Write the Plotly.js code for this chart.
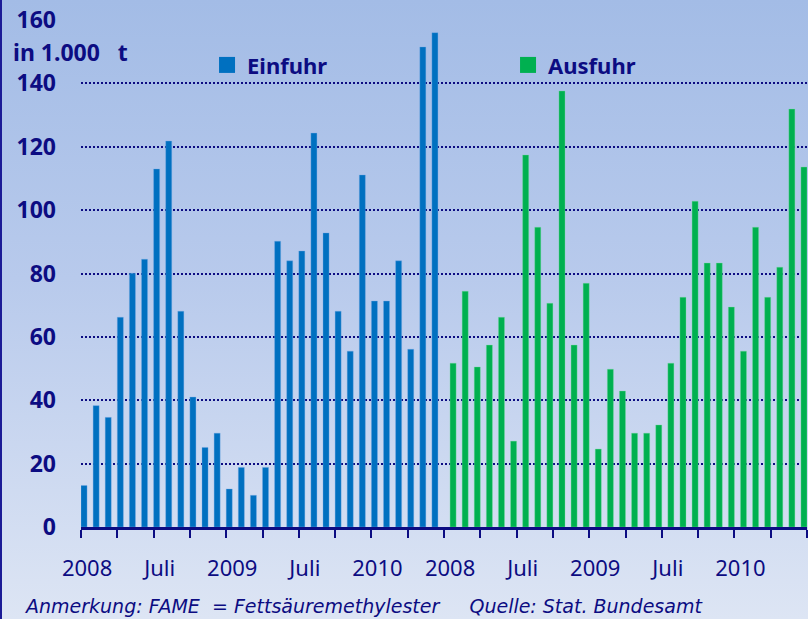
<!DOCTYPE html>
<html><head><meta charset="utf-8">
<script src="https://cdn.plot.ly/plotly-3.0.1.min.js"></script>
<style>
html,body{margin:0;padding:0;background:#fff;}
#wrap{position:relative;width:808px;height:619px;overflow:hidden;
  background:linear-gradient(to bottom,#a3bce6 0%,#b8caec 45%,#dde5f4 100%);}
#wrap:after{content:'';position:absolute;left:0;top:0;bottom:0;width:2px;background:#1b1b96;}
#chart{width:808px;height:619px;}
</style></head><body>
<div id="wrap"><div id="chart"></div></div>
<script>
const months = ['Jan 2008','Feb 2008','Mär 2008','Apr 2008','Mai 2008','Jun 2008','Jul 2008','Aug 2008','Sep 2008','Okt 2008','Nov 2008','Dez 2008',
  'Jan 2009','Feb 2009','Mär 2009','Apr 2009','Mai 2009','Jun 2009','Jul 2009','Aug 2009','Sep 2009','Okt 2009','Nov 2009','Dez 2009',
  'Jan 2010','Feb 2010','Mär 2010','Apr 2010','Mai 2010','Jun 2010'];
const einfuhr = [13.1, 38.3, 34.6, 66.2, 80.1, 84.5, 113.0, 121.8, 68.1, 41.0, 25.1, 29.6,
  12.0, 18.8, 10.0, 18.8, 90.2, 84.0, 87.1, 124.3, 92.8, 68.1, 55.5, 111.1,
  71.3, 71.3, 84.0, 56.1, 151.5, 156.0];
const ausfuhr = [51.7, 74.4, 50.5, 57.4, 66.2, 27.1, 117.4, 94.6, 70.6, 137.6, 57.4, 76.9,
  24.6, 49.8, 42.9, 29.6, 29.6, 32.2, 51.7, 72.5, 102.8, 83.3, 83.3, 69.4,
  55.5, 94.6, 72.5, 82.0, 131.9, 113.6];
const tickLabels = ['2008','Juli','2009','Juli','2010'];
const seriesNames = ['Einfuhr','Ausfuhr'];
const seriesColors = ['#0070c0','#00b050'];
const unitLabel = 'in 1.000\u00a0\u00a0\u00a0t';
const footnote = 'Anmerkung:\u00a0FAME\u00a0\u00a0=\u00a0Fettsäuremethylester\u00a0\u00a0\u00a0\u00a0\u00a0Quelle:\u00a0Stat.\u00a0Bundesamt';

const navy = '#0c0c82';
const n = months.length;
const xE = einfuhr.map((_, i) => i);
const xA = ausfuhr.map((_, i) => i + n);

const tickvals = [], ticktext = [];
[0, n].forEach(off => tickLabels.forEach((t, k) => { tickvals.push(off + k * 6); ticktext.push(t); }));

const traces = [
  {type:'bar', name:seriesNames[0], x:xE, y:einfuhr, text:months, showlegend:false, legendgroup:'e',
   hovertemplate:'%{text}: %{y}<extra>Einfuhr</extra>', textposition:'none', width:0.5, offset:-0.5,
   marker:{color:seriesColors[0], line:{color:'rgba(120,170,230,0.6)', width:0.6}}},
  {type:'bar', name:seriesNames[1], x:xA, y:ausfuhr, text:months, showlegend:false, legendgroup:'a',
   hovertemplate:'%{text}: %{y}<extra>Ausfuhr</extra>', textposition:'none', width:0.5, offset:0,
   marker:{color:seriesColors[1], line:{color:'rgba(120,220,160,0.6)', width:0.6}}},
  {type:'scatter', mode:'markers', name:seriesNames[0], x:[null], y:[null], legendgroup:'e', legendwidth:256,
   marker:{symbol:'square', size:16, color:seriesColors[0]}, hoverinfo:'skip'},
  {type:'scatter', mode:'markers', name:seriesNames[1], x:[null], y:[null], legendgroup:'a',
   marker:{symbol:'square', size:16, color:seriesColors[1]}, hoverinfo:'skip'}
];

const layout = {
  width:808, height:619,
  margin:{l:81, r:1, t:20, b:92, autoexpand:false},
  paper_bgcolor:'rgba(0,0,0,0)', plot_bgcolor:'rgba(0,0,0,0)',
  font:{family:'"Noto Sans", sans-serif', color:navy},
  barmode:'overlay',
  showlegend:true,
  legend:{orientation:'h', x:0.1736, xanchor:'left', y:0.911, yanchor:'middle', itemclick:false,
    bgcolor:'rgba(0,0,0,0)', font:{size:22, weight:'bold', color:navy}},
  xaxis:{range:[-0.5, 2*n - 0.5], tickmode:'array', tickvals:tickvals, ticktext:ticktext,
    ticks:'', ticklabelstandoff:20, tickfont:{size:22, color:navy},
    showgrid:false, zeroline:false, showline:true, linecolor:navy, linewidth:3,
    minor:{tick0:-0.5, dtick:3, ticks:'outside', ticklen:8, tickwidth:2, tickcolor:navy, showgrid:false}},
  yaxis:{range:[0,160], tickvals:[0,20,40,60,80,100,120,140,160], ticks:'', ticklabelstandoff:24,
    tickfont:{size:23, weight:'bold', color:navy}, showgrid:true, gridcolor:navy, gridwidth:2, griddash:'2px,2px',
    zeroline:false, showline:false},
  annotations:[
    {text:unitLabel, xref:'paper', yref:'paper', x:-0.097, y:0.937, xanchor:'left', yanchor:'middle', showarrow:false,
     font:{size:23, weight:'bold', color:navy}},
    {text:footnote, xref:'paper', yref:'paper', x:-0.081, y:-0.155, xanchor:'left', yanchor:'middle', showarrow:false,
     font:{family:'"DejaVu Sans", sans-serif', size:19, style:'italic', color:navy}}
  ]
};
Plotly.newPlot('chart', traces, layout, {displayModeBar:false});
</script>
</body></html>
